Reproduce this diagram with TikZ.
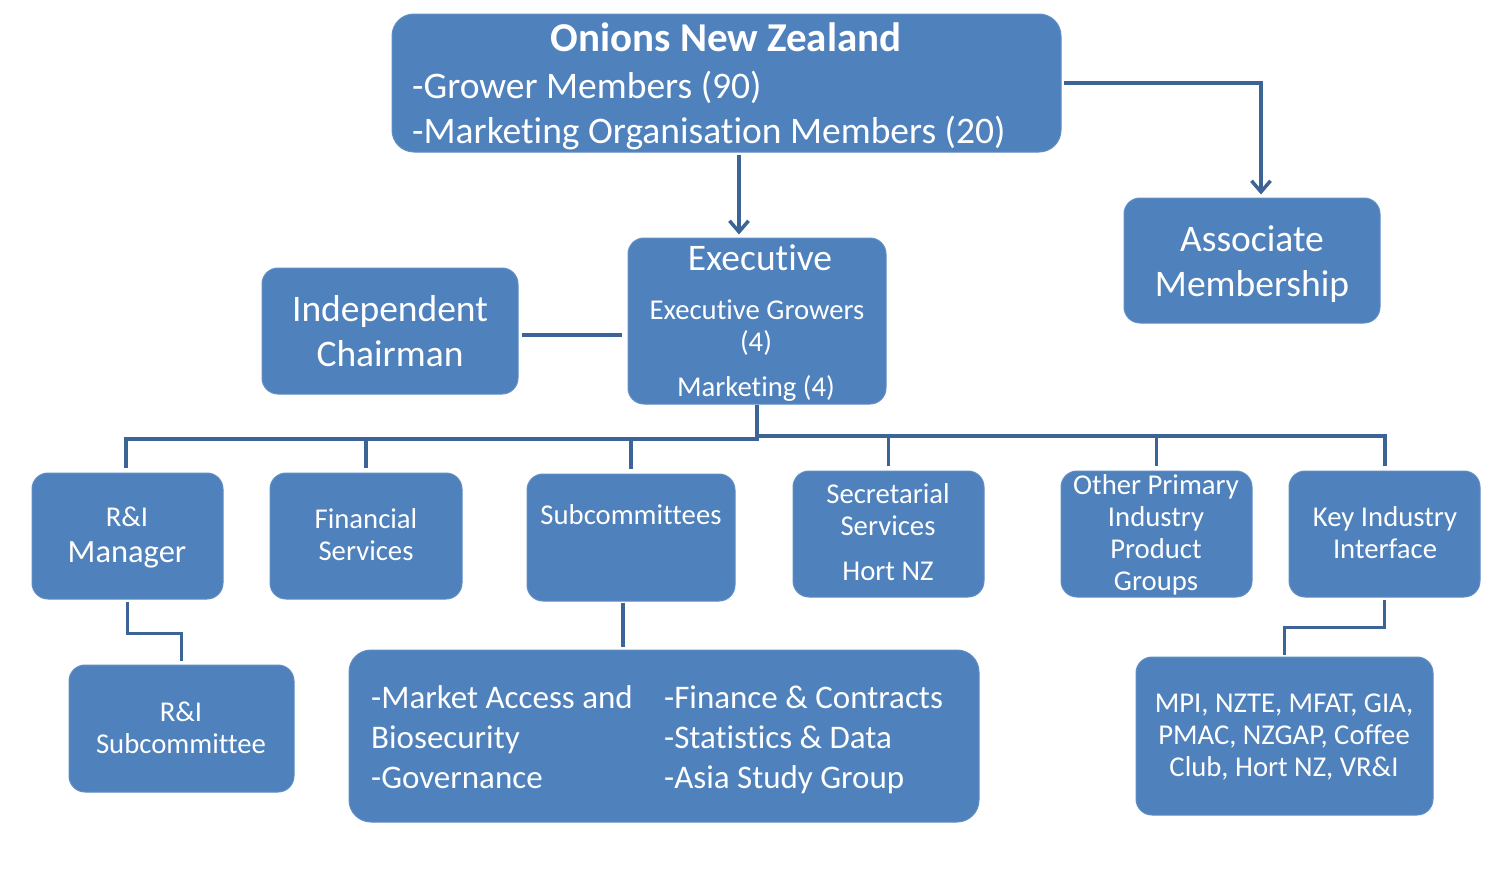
\documentclass[tikz,border=0pt]{standalone}
\usepackage{fontspec}
\setmainfont{Carlito}[RawFeature={-liga;-clig;-calt;-dlig}]
\usetikzlibrary{arrows.meta}
\definecolor{boxblue}{HTML}{4F81BD}
\definecolor{lineblue}{HTML}{3C6496}
\newcommand{\fbig}{\fontsize{37.5}{45}\selectfont}
\newcommand{\ftitle}{\fontsize{41}{48}\selectfont\bfseries}
\newcommand{\fsmall}{\fontsize{28.7}{34}\selectfont}
\newcommand{\fmid}{\fontsize{32.5}{38}\selectfont}
\newcommand{\flist}{\fontsize{33}{40}\selectfont}
\tikzset{
  box/.style={fill=boxblue, draw=boxblue!90!white, line width=1pt, rounded corners=16pt, inner sep=0pt},
  bigbox/.style={box, rounded corners=22pt},
  txt/.style={text=white, inner sep=0pt, anchor=base},
  txtl/.style={text=white, inner sep=0pt, anchor=base west},
  ln/.style={draw=lineblue, line width=3.5pt},
  arr/.style={ln, -{Straight Barb[length=11pt,width=19pt,line width=3.5pt]}}
}
\begin{document}
\begin{tikzpicture}[x=1pt,y=-1pt]
\useasboundingbox[fill=white] (0,0) rectangle (1497,871);
% boxes
\node[bigbox, minimum width=669pt, minimum height=138pt] (onz) at (726.5,83) {};
\node[box, minimum width=258pt, minimum height=166pt] (exe) at (757,321) {};
\node[box, minimum width=256pt, minimum height=126pt] (chr) at (390,331) {};
\node[box, minimum width=256pt, minimum height=125pt] (asc) at (1252,260.5) {};
\node[box, minimum width=191pt, minimum height=126pt] (rim) at (127.5,536) {};
\node[box, minimum width=192pt, minimum height=126pt] (fin) at (366,536) {};
\node[box, minimum width=208pt, minimum height=127pt] (sub) at (631,537.5) {};
\node[box, minimum width=191pt, minimum height=126pt] (sec) at (888.5,534) {};
\node[box, minimum width=191pt, minimum height=126pt] (oth) at (1156.5,534) {};
\node[box, minimum width=191pt, minimum height=126pt] (key) at (1384.5,534) {};
\node[box, minimum width=225pt, minimum height=127pt] (ris) at (181.5,728.5) {};
\node[bigbox, minimum width=630pt, minimum height=172pt] (lst) at (664,736) {};
\node[box, minimum width=297pt, minimum height=158pt] (mpi) at (1284.5,736) {};
% texts
\node[txt] (onzT) at (726,51) {\ftitle Onions New Zealand};
\node[txtl] (onzA) at (412,98) {\fbig -Grower Members (90)};
\node[txtl] (onzB) at (412,143) {\fbig -Marketing Organisation Members (20)};
\node[txt] (ascA) at (1252,251) {\fbig Associate};
\node[txt] (ascB) at (1252,296) {\fbig Membership};
\node[txt] (exeT) at (760,270) {\fbig Executive};
\node[txt] (exeA) at (757,319) {\fsmall Executive Growers};
\node[txt] (exeB) at (756,351) {\fsmall (4)};
\node[txt] (exeC) at (756,396) {\fsmall Marketing (4)};
\node[txt] (chrA) at (390,321) {\fbig Independent};
\node[txt] (chrB) at (390,366) {\fbig Chairman};
\node[txt] (rimA) at (127,526) {\fsmall R\&I};
\node[txt] (rimB) at (127,562) {\fmid Manager};
\node[txt] (finA) at (366,528) {\fsmall Financial};
\node[txt] (finB) at (366,560) {\fsmall Services};
\node[txt] (subT) at (631,524) {\fsmall Subcommittees};
\node[txt] (secA) at (888,503) {\fsmall Secretarial};
\node[txt] (secB) at (888,535) {\fsmall Services};
\node[txt] (secC) at (888,580) {\fsmall Hort NZ};
\node[txt] (othA) at (1156,494) {\fsmall Other Primary};
\node[txt] (othB) at (1156,526) {\fsmall Industry};
\node[txt] (othC) at (1156,558) {\fsmall Product};
\node[txt] (othD) at (1156,590) {\fsmall Groups};
\node[txt] (keyA) at (1385,526) {\fsmall Key Industry};
\node[txt] (keyB) at (1385,558) {\fsmall Interface};
\node[txt] (risA) at (181,721) {\fsmall R\&I};
\node[txt] (risB) at (181,753) {\fsmall Subcommittee};
\node[txtl] (lstA) at (371,708) {\flist -Market Access and};
\node[txtl] (lstB) at (371,748) {\flist Biosecurity};
\node[txtl] (lstC) at (371,788) {\flist -Governance};
\node[txtl] (lstD) at (664,708) {\flist -Finance \& Contracts};
\node[txtl] (lstE) at (664,748) {\flist -Statistics \& Data};
\node[txtl] (lstF) at (664,788) {\flist -Asia Study Group};
\node[txt] (mpiA) at (1284,712) {\fsmall MPI, NZTE, MFAT, GIA,};
\node[txt] (mpiB) at (1284,744) {\fsmall PMAC, NZGAP, Coffee};
\node[txt] (mpiC) at (1284,776) {\fsmall Club, Hort NZ, VR\&I};
% connectors
\coordinate (busL) at (126,439);
\coordinate (busM1) at (757,439);
\coordinate (busM2) at (757,436);
\coordinate (busR) at (1385,436);
\coordinate (chrE) at ([xshift=3pt,yshift=-4pt]chr.east);
\draw[arr] ([xshift=12.5pt,yshift=-2pt]onz.south) -- ([xshift=12.5pt,yshift=3pt]onz.south |- exe.north);
\draw[arr] ([xshift=2pt]onz.east) -| ([xshift=9pt,yshift=3pt]asc.north);
\draw[ln] (chrE) -- ([xshift=-6pt]exe.west |- chrE);
\draw[ln] (exe.south) -- (busM1);
\draw[ln, line cap=rect] (busL) -- (busM1);
\draw[ln, line cap=rect] (busM2) -- (busR);
\draw[ln, shorten >=5pt] (busL) -- (busL |- rim.north);
\draw[ln, shorten >=5pt] (fin.north |- busL) -- (fin.north);
\draw[ln, shorten >=5pt] (sub.north |- busL) -- (sub.north);
\draw[ln, shorten >=5pt] (sec.north |- busR) -- (sec.north);
\draw[ln, shorten >=5pt] (oth.north |- busR) -- (oth.north);
\draw[ln, shorten >=5pt] (busR) -- (busR |- key.north);
\draw[ln] ([yshift=-2pt]rim.south) -- ++(0,32) -| ([yshift=4pt]ris.north);
\draw[ln] ([xshift=-8pt,yshift=-1pt]sub.south) -- ([xshift=-8pt,yshift=3pt]sub.south |- lst.north);
\draw[ln] ([yshift=-2pt]key.south) -- ++(0,28) -| ([yshift=2pt]mpi.north);
\end{tikzpicture}
\end{document}
